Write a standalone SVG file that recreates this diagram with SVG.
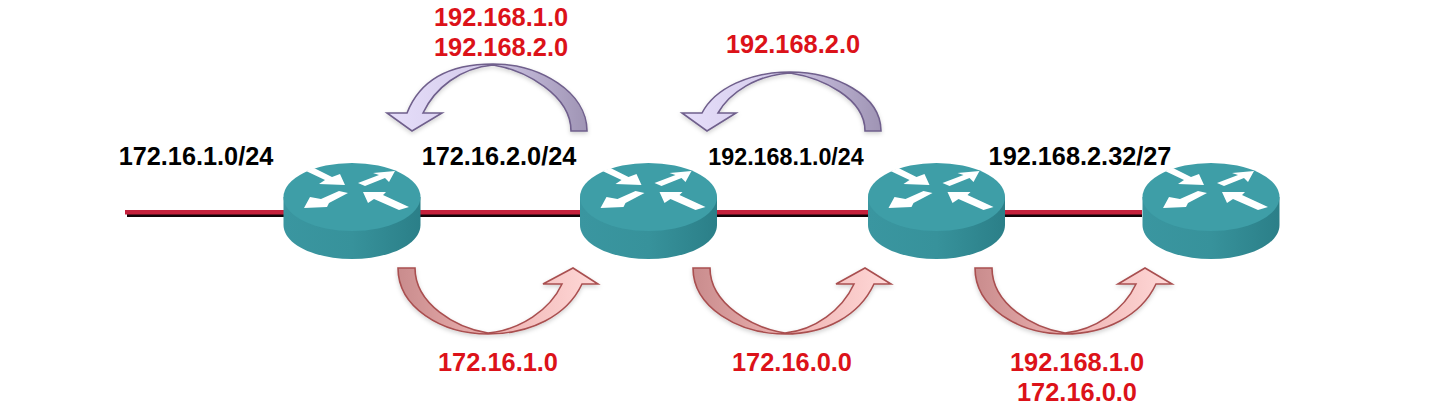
<svg xmlns="http://www.w3.org/2000/svg" xmlns:xlink="http://www.w3.org/1999/xlink" width="1440" height="407" viewBox="0 0 1440 407">
<style>
text{font-family:"Liberation Sans",Arial,sans-serif;font-weight:bold;text-anchor:middle}
.net{font-size:25.300px;fill:#000}
.rt{font-size:25.400px;fill:#dc1219}
.pur{fill:url(#pg);stroke:#6f5f8c;stroke-width:1.6;filter:url(#sh)}
.red{fill:url(#rg);stroke:#a94f50;stroke-width:1.6;filter:url(#sh)}
.ar{fill:#fff}
</style>
<defs>
<linearGradient id="body" x1="0" x2="1" y1="0" y2="0">
<stop offset="0" stop-color="#3a96a0"/><stop offset=".5" stop-color="#37929b"/><stop offset="1" stop-color="#2b7f88"/>
</linearGradient>
<linearGradient id="pg" x1="0" x2="1" y1="0" y2="0">
<stop offset="0" stop-color="#e6defa"/><stop offset=".45" stop-color="#d6cdec"/><stop offset="1" stop-color="#9f94b4"/>
</linearGradient>
<linearGradient id="rg" x1="1" x2="0" y1="0" y2="0">
<stop offset="0" stop-color="#ffd9d8"/><stop offset=".5" stop-color="#efb4b3"/><stop offset="1" stop-color="#c98c8d"/>
</linearGradient>
<filter id="sh" x="-10%" y="-10%" width="120%" height="130%">
<feDropShadow dx="0" dy="2" stdDeviation="2" flood-color="#000" flood-opacity=".18"/>
</filter>
<g id="router">
<path d="M-68.500 0V28C-68.500 47-38 62 0 62S68.500 47 68.500 28V0Z" fill="url(#body)"/>
<ellipse cx="0" cy="0" rx="68.500" ry="34" fill="#3e9ea7"/>
<g class="ar">
<polygon points="-46,-26 -38,-29 -20,-20 -12,-23 -7,-12 -33,-13 -27,-17"/>
<polygon points="6,-14 27,-22 21,-24 43,-26 37,-15 33,-19 13,-11"/>
<polygon points="-13,-6 -4,-4 -23,6 -25,10 -48,11 -42,0 -31,2"/>
<polygon points="11,-5 34,-5 31,-2 57,10 47,13 22,2 16,6"/>
</g>
</g>
</defs>
<g id="connectors">
<rect x="127" y="212" width="1015" height="5" fill="#120408"/>
<rect x="125" y="210" width="1017" height="4.500" fill="#c5213c"/>
</g>
<g id="router1"><use xlink:href="#router" href="#router" x="352" y="197"/></g>
<g id="router2"><use xlink:href="#router" href="#router" x="648.500" y="197"/></g>
<g id="router3"><use xlink:href="#router" href="#router" x="936.500" y="197"/></g>
<g id="router4"><use xlink:href="#router" href="#router" x="1211" y="197"/></g>
<g id="curved-arrows">
<path class="pur" d="M587 131C587 92 540 64 493 64C450 64 420 80 407 113H387L412 131L442 113H423C435 88 460 68 493 65C525 70 571 95 571 131Z"/>
<path class="pur" d="M881 131C881 95 835 72 790 72C750 72 715 88 702 113H682L707 131L736 113H718C730 92 757 75 790 73C822 78 865 98 865 131Z"/>
<path class="red" d="M398 268C398 307 441 334 488 334C530 334 567 316 582 284H598L573 268L543 284H562C550 310 520 330 488 333C456 328 415 304 415 268Z"/>
<path class="red" d="M693 268C693 307 738 334 785 334C825 334 859 316 874 284H891L865 268L836 284H854C842 310 815 330 785 333C753 328 710 304 710 268Z"/>
<path class="red" d="M975 268C975 307 1018 334 1065 334C1105 334 1141 316 1156 284H1172L1145 268L1118 284H1136C1124 310 1095 330 1065 333C1033 328 992 304 992 268Z"/>
</g>
<g id="labels">
<text class="net" x="196" y="165">172.16.1.0/24</text>
<text class="net" x="499" y="165">172.16.2.0/24</text>
<text class="net" x="786" y="165" style="font-size:23.300px">192.168.1.0/24</text>
<text class="net" x="1080" y="165">192.168.2.32/27</text>
<text class="rt" x="501" y="26">192.168.1.0</text>
<text class="rt" x="501" y="56">192.168.2.0</text>
<text class="rt" x="793" y="53">192.168.2.0</text>
<text class="rt" x="498" y="371">172.16.1.0</text>
<text class="rt" x="792" y="371">172.16.0.0</text>
<text class="rt" x="1077" y="371">192.168.1.0</text>
<text class="rt" x="1077" y="401">172.16.0.0</text>
</g>
</svg>
